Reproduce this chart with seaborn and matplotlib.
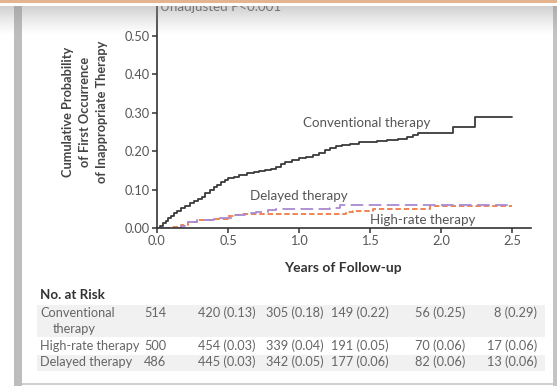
import numpy as np
import pandas as pd
import matplotlib
matplotlib.use("Agg")
import matplotlib.pyplot as plt
import seaborn as sns
from matplotlib.patches import Rectangle

# Cumulative incidence of first inappropriate therapy by programming arm
groups = ["Conventional therapy", "High-rate therapy", "Delayed therapy"]

conv_t = [0, 0.02, 0.04, 0.06, 0.08, 0.10, 0.12, 0.14, 0.17, 0.20, 0.23, 0.26, 0.29,
          0.315, 0.34, 0.37, 0.40, 0.42, 0.45, 0.48, 0.50, 0.54, 0.58, 0.632, 0.68,
          0.72, 0.76, 0.80, 0.84, 0.87, 0.90, 0.95, 1.00, 1.05, 1.10, 1.14, 1.18,
          1.22, 1.26, 1.30, 1.36, 1.42, 1.48, 1.55, 1.617, 1.70, 1.758, 1.80, 1.84,
          2.087, 2.24, 2.50]
conv_p = [0, 0.006, 0.012, 0.018, 0.025, 0.032, 0.040, 0.045, 0.052, 0.058, 0.064,
          0.070, 0.076, 0.082, 0.090, 0.098, 0.106, 0.112, 0.119, 0.125, 0.129, 0.134,
          0.138, 0.142, 0.145, 0.148, 0.151, 0.154, 0.160, 0.166, 0.172, 0.177, 0.182,
          0.186, 0.190, 0.195, 0.202, 0.208, 0.213, 0.216, 0.220, 0.223, 0.225, 0.227,
          0.229, 0.232, 0.236, 0.241, 0.247, 0.264, 0.290, 0.290]

high_t = [0, 0.10, 0.17, 0.22, 0.28, 0.40, 0.50, 0.55, 0.60, 1.27, 1.33, 1.38, 1.52,
          1.92, 2.50]
high_p = [0, 0.003, 0.008, 0.016, 0.020, 0.024, 0.030, 0.033, 0.036, 0.036, 0.041,
          0.045, 0.049, 0.058, 0.058]

delay_t = [0, 0.17, 0.22, 0.28, 0.40, 0.54, 0.62, 0.70, 0.78, 0.84, 1.22, 1.29, 2.50]
delay_p = [0, 0.005, 0.015, 0.022, 0.026, 0.034, 0.038, 0.042, 0.046, 0.049, 0.053,
           0.060, 0.060]

x_ticks = [0.0, 0.5, 1.0, 1.5, 2.0, 2.5]
y_ticks = [0.0, 0.1, 0.2, 0.3, 0.4, 0.5]

# Numbers at risk (cumulative probability) at each tick
risk_rows = ["Conventional\n   therapy", "High-rate therapy", "Delayed therapy"]
risk_n0 = ["514", "500", "486"]
risk_cells = [
    ["420 (0.13)", "305 (0.18)", "149 (0.22)", "56 (0.25)", "8 (0.29)"],
    ["454 (0.03)", "339 (0.04)", "191 (0.05)", "70 (0.06)", "17 (0.06)"],
    ["445 (0.03)", "342 (0.05)", "177 (0.06)", "82 (0.06)", "13 (0.06)"],
]

frames = []
for g, t, p in [(groups[0], conv_t, conv_p), (groups[1], high_t, high_p),
                (groups[2], delay_t, delay_p)]:
    frames.append(pd.DataFrame({"years": t, "prob": p, "group": g}))
df = pd.concat(frames, ignore_index=True)

sns.set_theme(style="white")
plt.rcParams["font.family"] = ["Lato", "DejaVu Sans"]

W, H = 557, 386
fig = plt.figure(figsize=(W / 100, H / 100), dpi=100)
fig.patch.set_facecolor("white")


def fx(x):
    return x / W


def fy(y):
    return 1 - y / H


# Page frame behind everything
bg = fig.add_axes([0, 0, 1, 1], zorder=-5)
bg.set_xlim(0, W)
bg.set_ylim(H, 0)
bg.axis("off")
bg.add_patch(Rectangle((14, 6), 8, H, color="#bdbdbd", lw=0))
bg.add_patch(Rectangle((553, 6), 4, H, color="#c4c4c4", lw=0))
bg.add_patch(Rectangle((22, 383), 531, 1.5, color="#cfcfcf", lw=0))
# Risk table shading
bg.add_patch(Rectangle((37, 305), 508, 32, color="#f1f1f1", lw=0))
bg.add_patch(Rectangle((37, 355), 508, 16, color="#f1f1f1", lw=0))

ax_x0, ax_x1 = 157, 530.5
ax_y0, ax_y1 = 6, 228
ax = fig.add_axes([fx(ax_x0), fy(ax_y1), (ax_x1 - ax_x0) / W, (ax_y1 - ax_y0) / H])
ax.patch.set_alpha(0)

palette = {groups[0]: "#3a3a3a", groups[1]: "#f07a45", groups[2]: "#a98ad0"}
dashes = {groups[0]: "", groups[1]: (3.0, 1.6), groups[2]: (7.0, 3.0)}
sns.lineplot(data=df, x="years", y="prob", hue="group", style="group",
             palette=palette, dashes=dashes, estimator=None, sort=False,
             drawstyle="steps-post", linewidth=1.3, legend=False, ax=ax)

ax.set_xlim(0, (ax_x1 - ax_x0) / 142.0)
ax.set_ylim(0, (ax_y1 - ax_y0) / 384.0)
ax.set_xticks(x_ticks)
ax.set_xticklabels([f"{v:.1f}" for v in x_ticks])
ax.set_yticks(y_ticks)
ax.set_yticklabels([f"{v:.2f}" for v in y_ticks])
ax.set_xlabel("")
ax.set_ylabel("")
sns.despine(ax=ax)
for s in ["left", "bottom"]:
    ax.spines[s].set_color("#333333")
    ax.spines[s].set_linewidth(1.2)
ax.tick_params(axis="both", direction="out", length=3.8, width=1.1, color="#333333",
               labelsize=9.2, labelcolor="#555555", pad=1.5, left=True, bottom=True)

# Curve labels
lab_kw = dict(fontsize=9.6, color="#555555", va="center", ha="left")
ax.text(1.03, 0.273, "Conventional therapy", **lab_kw)
ax.text(0.655, 0.083, "Delayed therapy", **lab_kw)
ax.text(1.50, 0.021, "High-rate therapy", **lab_kw)

fig.text(fx(160), fy(7.3), "Unadjusted P<0.001", fontsize=9.6, color="#666666",
         ha="left", va="center")

# Axis titles
fig.text(fx(85), fy(112), "Cumulative Probability\nof First Occurrence\nof Inappropriate Therapy",
         rotation=90, ha="center", va="center", fontsize=9.2, fontweight="bold",
         color="#444444", linespacing=1.45, multialignment="center")
fig.text(fx(343), fy(268), "Years of Follow-up", ha="center", va="center",
         fontsize=10, fontweight="bold", color="#333333")

# Number-at-risk table
fig.text(fx(40), fy(295), "No. at Risk", ha="left", va="center", fontsize=9.6,
         fontweight="bold", color="#333333")
row_y = [313, 346, 362]
col_right = [256, 324, 389, 465, 537]
tbl_kw = dict(fontsize=9.2, color="#666666", va="center")
for i, name in enumerate(risk_rows):
    y = row_y[i]
    if "\n" in name:
        first, second = name.split("\n")
        fig.text(fx(40), fy(y), first, ha="left", **tbl_kw)
        fig.text(fx(53), fy(y + 16), second.strip(), ha="left", **tbl_kw)
    else:
        fig.text(fx(40), fy(y), name, ha="left", **tbl_kw)
    fig.text(fx(166), fy(y), risk_n0[i], ha="right", **tbl_kw)
    for xr, cell in zip(col_right, risk_cells[i]):
        fig.text(fx(xr), fy(y), cell, ha="right", **tbl_kw)

# Top edge: coloured rule, white strip, and soft shadow
fg = fig.add_axes([0, 0, 1, 1], zorder=10)
fg.set_xlim(0, W)
fg.set_ylim(H, 0)
fg.axis("off")
fg.patch.set_alpha(0)
fg.add_patch(Rectangle((0, 3), W, 3, color="white", lw=0))
fg.add_patch(Rectangle((0, 0), W, 3, color="#e3b48f", lw=0))
shade = np.ones((30, 2, 4))
shade[..., :3] = 0.55
shade[..., 3] = np.linspace(0.5, 0.0, 30)[:, None] ** 1.3
fg.imshow(shade, extent=(0, W, 36, 6), aspect="auto", interpolation="bilinear")
fg.set_xlim(0, W)
fg.set_ylim(H, 0)

fig.savefig("out.png", dpi=100)
